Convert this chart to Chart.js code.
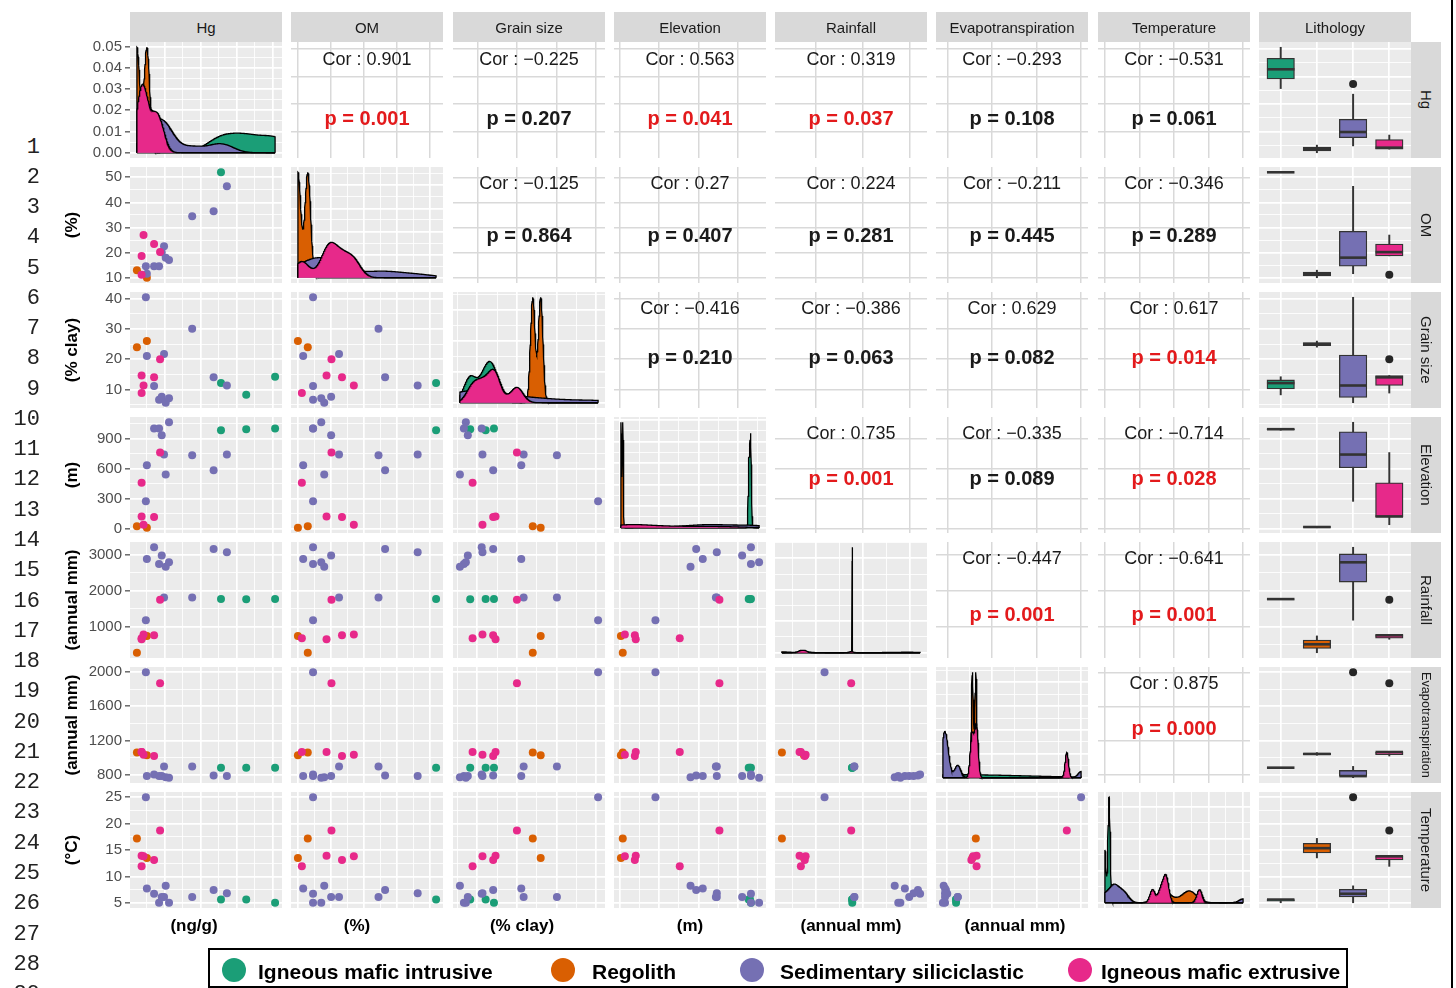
<!DOCTYPE html>
<html>
<head>
<meta charset="utf-8">
<title>Hg and environmental covariates by lithology</title>
<script src="https://cdn.jsdelivr.net/npm/chart.js@4.4.1/dist/chart.umd.min.js"></script>
<style>
  html, body { margin:0; padding:0; background:#fff; }
  body { position:relative; width:1456px; height:988px; overflow:hidden;
         font-family:"Liberation Sans", Arial, Helvetica, sans-serif; }
  canvas { position:absolute; }
  .strip { position:absolute; background:#D9D9D9; color:#1A1A1A; font-size:15px;
           display:flex; align-items:center; justify-content:center; white-space:nowrap; }
  .strip.side { writing-mode:vertical-rl; }
  .ytitle { position:absolute; font-weight:bold; font-size:17px; color:#000; white-space:nowrap;
            transform:translate(-50%,-50%) rotate(-90deg); }
  .xtitle { position:absolute; font-weight:bold; font-size:17px; color:#000; white-space:nowrap;
            transform:translate(-50%,-50%); }
  .cor { position:absolute; transform:translate(-50%,-50%); white-space:nowrap; font-size:18px; color:#1A1A1A; }
  .pval { position:absolute; transform:translate(-50%,-50%); white-space:nowrap; font-size:20px;
          font-weight:bold; color:#1A1A1A; }
  .pval.sig { color:#E31A1C; }
  .lineno { position:absolute; left:0; width:40px; text-align:right; color:#222;
            font-family:"Liberation Mono", "DejaVu Sans Mono", monospace; font-size:22px;
            transform:translateY(-50%); line-height:1; }
  .legend { position:absolute; left:208px; top:948px; width:1136px; height:36px; border:2px solid #000; }
  .key { position:absolute; width:24px; height:24px; border-radius:50%; transform:translate(-50%,-50%); }
  .keytext { position:absolute; font-weight:bold; font-size:21px; color:#000; white-space:nowrap;
             transform:translateY(-50%); line-height:1; }
  .frame { position:absolute; left:1451px; top:0; width:2px; height:988px; background:#000; }
</style>
</head>
<body>
<script>
// ---- Groups ---------------------------------------------------------------
const groupNames  = ['Igneous mafic intrusive', 'Regolith', 'Sedimentary siliciclastic', 'Igneous mafic extrusive'];
const groupColors = ['#1B9E77', '#D95F02', '#7570B3', '#E7298A'];

// ---- Samples (one entry per sampling site) --------------------------------
// lithology: index into groupNames
const lithology          = [0, 0, 0,   1, 1,   2, 2, 2, 2, 2, 2, 2, 2, 2, 2, 2,   3, 3, 3, 3, 3];
const hg                 = [128, 163, 203,   11.5, 25.3,   23.9, 25.3, 35.3, 42.2, 45.9, 49.1, 51.4, 56.0, 88.1, 117.8, 136.2,   43.6, 35.3, 20.7, 18.0, 18.0];
const om                 = [52, null, null,   13.0, 10.0,   14.6, 11.6, 14.6, 14.6, 20.1, 22.5, 18.0, 17.1, 34.5, 36.5, 46.4,   20.2, 23.4, 27.0, 18.7, 11.2];
const grainSize          = [12.1, 8.2, 14.2,   24.0, 26.0,   40.5, 21.1, 11.1, 6.6, 7.6, 21.7, 5.6, 7.1, 30.1, 14.0, 11.3,   20.0, 14.0, 11.3, 14.6, 8.8];
const elevation          = [983, 993, 1000,   24, 10,   273, 633, 1000, 1000, 933, 740, 540, 1062, 733, 583, 740,   760, 116, 40, 123, 458];
const rainfall           = [1773, 1771, 1775,   283, 750,   1187, 2890, 3213, 2750, 2982, 1818, 2675, 2795, 1818, 3168, 3074,   1752, 768, 786, 657, 685];
const evapotranspiration = [879, 879, 879,   1056, 1025,   2000, 780, 800, 780, 780, 894, 768, 761, 894, 788, 780,   1872, 1016, 1032, 1063, 1063];
const temperature        = [5.6, 5.6, 5.0,   17.2, 13.5,   25.0, 7.7, 6.7, 5.0, 6.1, 6.1, 8.2, 5.0, 6.1, 7.4, 6.8,   18.7, 13.1, 13.8, 13.9, 11.9];

// ---- Axis tick labels -------------------------------------------------------
const hgTicks    = [50, 100, 150, 200];
const omTicks    = [10, 20, 30, 40, 50];
const grainTicks = [10, 20, 30, 40];
const elevTicks  = [0, 300, 600, 900];
const rainTicks  = [1000, 2000, 3000];
const etTicks    = [800, 1200, 1600, 2000];
const tempTicks  = [5, 10, 15, 20, 25];

// ---- Correlation labels (upper triangle, left to right) --------------------
const corHg    = [0.901, -0.225, 0.563, 0.319, -0.293, -0.531];
const pHg      = [0.001, 0.207, 0.041, 0.037, 0.108, 0.061];
const corOM    = [-0.125, 0.27, 0.224, -0.211, -0.346];
const pOM      = [0.864, 0.407, 0.281, 0.445, 0.289];
const corGrain = [-0.416, -0.386, 0.629, 0.617];
const pGrain   = [0.210, 0.063, 0.082, 0.014];
const corElev  = [0.735, -0.335, -0.714];
const pElev    = [0.001, 0.089, 0.028];
const corRain  = [-0.447, -0.641];
const pRain    = [0.001, 0.001];
const corET    = [0.875];
const pET      = [0.000];

// ---- Labels -----------------------------------------------------------------
const stripLabels = ['Hg', 'OM', 'Grain size', 'Elevation', 'Rainfall', 'Evapotranspiration', 'Temperature', 'Lithology'];
const rowTitles   = [null, '(%)', '(% clay)', '(m)', '(annual mm)', '(annual mm)', '(\u00B0C)'];
const colTitles   = ['(ng/g)', '(%)', '(% clay)', '(m)', '(annual mm)', '(annual mm)'];

const variables  = [hg, om, grainSize, elevation, rainfall, evapotranspiration, temperature];
const majorTicks = [hgTicks, omTicks, grainTicks, elevTicks, rainTicks, etTicks, tempTicks];
const corRows    = [corHg, corOM, corGrain, corElev, corRain, corET];
const pRows      = [pHg, pOM, pGrain, pElev, pRain, pET];

// ---- Layout ---------------------------------------------------------------
const PW = 152, PH = 116, M = 12, AXW = 70, BOXW = 27.5, DOT = 4;
const colX = j => Math.round(130 + 161.25 * j);
const rowY = i => 42 + 125 * i;
const corTop = [17, 16, 16, 16, 16, 16];
const pTop   = [76, 68, 65, 61, 72, 61];

Chart.defaults.font.family = '"Liberation Sans", Arial, Helvetica, sans-serif';
Chart.register({
  id: 'panelBg',
  beforeDraw(chart, args, opts) {
    const a = chart.chartArea; if (!a) return;
    const c = chart.ctx; c.save();
    c.fillStyle = opts.color || '#EBEBEB';
    c.fillRect(a.left, a.top, a.right - a.left, a.bottom - a.top);
    c.restore();
  }
});

// ---- Helpers -----------------------------------------------------------------
function present(v) { return v.filter(x => x !== null && x !== undefined); }
function expandRange(v) {
  const f = present(v), lo = Math.min(...f), hi = Math.max(...f), d = (hi - lo) * 0.05;
  return [lo - d, hi + d];
}
function quantile7(s, p) {
  const h = (s.length - 1) * p, lo = Math.floor(h);
  return lo + 1 < s.length ? s[lo] + (h - lo) * (s[lo + 1] - s[lo]) : s[lo];
}
function bwNrd0(x) {
  const n = x.length, mean = x.reduce((a, b) => a + b, 0) / n;
  const hi = Math.sqrt(x.reduce((a, b) => a + (b - mean) * (b - mean), 0) / (n - 1));
  const s = [...x].sort((a, b) => a - b);
  let lo = Math.min(hi, (quantile7(s, 0.75) - quantile7(s, 0.25)) / 1.34);
  if (!(lo > 0)) lo = hi || Math.abs(x[0]) || 1;
  return 0.9 * lo * Math.pow(n, -0.2);
}
// Gaussian kernel density over [from, to], outlined down to the baseline at both ends
function kde(x, from, to) {
  const bw = bwNrd0(x), grid = [];
  for (let k = 0; k < 512; k++) grid.push(from + (to - from) * k / 511);
  x.forEach(v => grid.push(v));
  grid.sort((a, b) => a - b);
  const norm = x.length * bw * Math.sqrt(2 * Math.PI);
  const pts = grid.map(t => ({ x: t, y: x.reduce((a, v) => a + Math.exp(-0.5 * ((t - v) / bw) ** 2), 0) / norm }));
  return [{ x: from, y: 0 }, ...pts, { x: to, y: 0 }];
}
function boxStats(v) {
  const s = [...v].sort((a, b) => a - b);
  const q1 = quantile7(s, 0.25), med = quantile7(s, 0.5), q3 = quantile7(s, 0.75), iqr = q3 - q1;
  const lf = q1 - 1.5 * iqr, uf = q3 + 1.5 * iqr;
  const inside = s.filter(x => x >= lf && x <= uf);
  return { q1, med, q3, lo: Math.min(...inside), hi: Math.max(...inside), out: s.filter(x => x < lf || x > uf) };
}
function niceStep(span) {
  const raw = span / 5, mag = Math.pow(10, Math.floor(Math.log10(raw))), n = raw / mag;
  return (n < 1.5 ? 1 : n < 3 ? 2 : n < 7 ? 5 : 10) * mag;
}
function gridValues(majors, lo, hi, withMinor) {
  const out = majors.filter(v => v >= lo && v <= hi).map(v => ({ value: v, isMajor: true }));
  if (withMinor && majors.length > 1) {
    const step = majors[1] - majors[0];
    for (let k = -1; k < majors.length; k++) {
      const m = majors[0] + (k + 0.5) * step;
      if (m >= lo && m <= hi) out.push({ value: m, isMajor: false });
    }
  }
  return out.sort((a, b) => a.value - b.value);
}

const GREY  = { major: '#FFFFFF', minor: '#FFFFFF', majorW: 1.7, minorW: 0.85 };
const UPPER = { major: '#D9D9D9', minor: '#D9D9D9', majorW: 1.5, minorW: 1.5 };

function axis(pos, lo, hi, ticks, look, labelFmt) {
  const withLabels = !!labelFmt;
  const conf = {
    type: 'linear', position: pos, min: lo, max: hi, offset: false, beginAtZero: false,
    afterBuildTicks: s => { s.ticks = ticks.map(t => ({ value: t.value, isMajor: t.isMajor })); },
    grid: {
      display: true, drawOnChartArea: true, offset: false,
      color: c => (c.tick && c.tick.isMajor) ? look.major : look.minor,
      lineWidth: c => (c.tick && c.tick.isMajor) ? look.majorW : look.minorW,
      drawTicks: withLabels, tickLength: 5, tickWidth: 1.1,
      tickColor: c => (c.tick && c.tick.isMajor) ? '#333333' : 'rgba(0,0,0,0)'
    },
    border: { display: false },
    ticks: {
      display: withLabels, autoSkip: false, padding: 3, color: '#4D4D4D', font: { size: 15 },
      callback: (v, idx, arr) => (withLabels && arr[idx] && arr[idx].isMajor) ? labelFmt(v) : ''
    }
  };
  if (withLabels) conf.afterFit = s => { s.width = AXW; };
  return conf;
}

function makeCanvas(i, j, withAxis) {
  const x = colX(j), y = rowY(i);
  const c = document.createElement('canvas');
  const left = withAxis ? x - AXW : x - M;
  const w = withAxis ? AXW + PW + M : PW + 2 * M;
  const h = PH + 2 * M;
  c.width = w; c.height = h;
  c.style.left = left + 'px'; c.style.top = (y - M) + 'px';
  c.style.width = w + 'px'; c.style.height = h + 'px';
  document.body.appendChild(c);
  return { canvas: c, padding: withAxis ? { left: 0, right: M, top: M, bottom: M } : M };
}

function build(geom, type, datasets, xAxis, yAxis, bg, plugins) {
  return new Chart(geom.canvas, {
    type, data: { datasets },
    options: {
      responsive: false, animation: false, devicePixelRatio: 1, events: [],
      layout: { padding: geom.padding },
      plugins: { legend: { display: false }, tooltip: { enabled: false }, panelBg: { color: bg } },
      scales: { x: xAxis, y: yAxis }
    },
    plugins: plugins || []
  });
}

const limits = variables.map(expandRange);
const intFmt = v => String(Math.round(v));
const varGrid = (k, minor) => gridValues(majorTicks[k], limits[k][0], limits[k][1], minor);
const sampleIdx = lithology.map((_, k) => k);

// ---- Panels -------------------------------------------------------------------
function scatterPanel(i, j, geom, withLabels) {
  const datasets = groupColors.map((col, g) => ({
    data: sampleIdx.filter(k => lithology[k] === g && variables[j][k] != null && variables[i][k] != null)
                   .map(k => ({ x: variables[j][k], y: variables[i][k] })),
    backgroundColor: col, pointRadius: DOT, borderWidth: 0, order: 3 - g
  }));
  build(geom, 'scatter', datasets,
        axis('bottom', limits[j][0], limits[j][1], varGrid(j, true), GREY),
        axis('left', limits[i][0], limits[i][1], varGrid(i, true), GREY, withLabels ? intFmt : null),
        '#EBEBEB');
}

function densityPanel(j, geom, withLabels) {
  const f = present(variables[j]);
  const from = Math.min(...f), to = Math.max(...f);
  const curves = groupColors.map((col, g) => {
    const v = sampleIdx.filter(k => lithology[k] === g && variables[j][k] != null).map(k => variables[j][k]);
    return v.length >= 2 ? kde(v, from, to) : null;
  });
  const dmax = Math.max(...curves.filter(Boolean).flatMap(c => c.map(p => p.y)));
  const ylo = -0.05 * dmax, yhi = 1.05 * dmax;
  const step = niceStep(yhi - ylo), majors = [];
  for (let v = Math.ceil(ylo / step) * step; v <= yhi + 1e-12; v += step) majors.push(Math.round(v / step) * step);
  const datasets = [];
  curves.forEach((c, g) => {
    if (!c) return;
    datasets.push({ data: c, fill: 'origin', backgroundColor: groupColors[g], borderColor: '#000000',
                    borderWidth: 1.3, pointRadius: 0, tension: 0, order: 3 - g });
  });
  build(geom, 'line', datasets,
        axis('bottom', limits[j][0], limits[j][1], varGrid(j, true), GREY),
        axis('left', ylo, yhi, gridValues(majors, ylo, yhi, true), GREY, withLabels ? (v => v.toFixed(2)) : null),
        '#EBEBEB');
}

function upperPanel(i, j, geom) {
  build(geom, 'scatter', [],
        axis('bottom', limits[j][0], limits[j][1], varGrid(j, false), UPPER),
        axis('left', limits[i][0], limits[i][1], varGrid(i, false), UPPER),
        '#FFFFFF');
  const cx = colX(j) + PW / 2, top = rowY(i);
  const r = corRows[i][j - i - 1], p = pRows[i][j - i - 1];
  const corTxt = (r < 0 ? '\u2212' : '') + String(Number(Math.abs(r).toPrecision(3)));
  const cd = document.createElement('div');
  cd.className = 'cor'; cd.textContent = 'Cor : ' + corTxt;
  cd.style.left = cx + 'px'; cd.style.top = (top + corTop[i]) + 'px';
  document.body.appendChild(cd);
  const pd = document.createElement('div');
  pd.className = 'pval' + (p < 0.05 ? ' sig' : ''); pd.textContent = 'p = ' + p.toFixed(3);
  pd.style.left = cx + 'px'; pd.style.top = (top + pTop[i]) + 'px';
  document.body.appendChild(pd);
}

function boxPanel(i, geom) {
  const stats = groupColors.map((col, g) => {
    const v = sampleIdx.filter(k => lithology[k] === g && variables[i][k] != null).map(k => variables[i][k]);
    return v.length ? boxStats(v) : null;
  });
  const whiskers = [], boxes = [], boxColors = [], outliers = [], medians = [];
  stats.forEach((s, g) => {
    if (!s) return;
    whiskers.push({ x: g + 1, y: [s.lo, s.hi] });
    boxes.push({ x: g + 1, y: [s.q1, s.q3] });
    boxColors.push(groupColors[g]);
    medians.push({ x: g + 1, y: s.med });
    s.out.forEach(v => outliers.push({ x: g + 1, y: v }));
  });
  const medianLines = {
    id: 'medianLines',
    afterDatasetsDraw(chart) {
      const { ctx, scales } = chart;
      ctx.save(); ctx.strokeStyle = '#333333'; ctx.lineWidth = 2.6;
      medians.forEach(m => {
        const px = scales.x.getPixelForValue(m.x), py = scales.y.getPixelForValue(m.y);
        ctx.beginPath(); ctx.moveTo(px - BOXW / 2, py); ctx.lineTo(px + BOXW / 2, py); ctx.stroke();
      });
      ctx.restore();
    }
  };
  const datasets = [
    { type: 'bar', data: whiskers, backgroundColor: '#333333', barThickness: 1.3, grouped: false, order: 3 },
    { type: 'bar', data: boxes, backgroundColor: boxColors,
      borderColor: '#333333', borderWidth: 1.3, borderSkipped: false, barThickness: BOXW, grouped: false, order: 2 },
    { type: 'scatter', data: outliers, backgroundColor: '#262626', pointRadius: DOT, borderWidth: 0, order: 1 }
  ];
  const xTicks = [1, 2, 3, 4].map(v => ({ value: v, isMajor: true }));
  build(geom, 'bar', datasets,
        axis('bottom', 0.4, 4.6, xTicks, GREY),
        axis('left', limits[i][0], limits[i][1], varGrid(i, true), GREY),
        '#EBEBEB', [medianLines]);
}

// ---- Draw the matrix --------------------------------------------------------
const NV = variables.length;
for (let i = 0; i < NV; i++) {
  for (let j = 0; j <= NV; j++) {
    const leftCol = j === 0;
    const geom = makeCanvas(i, j, leftCol);
    if (j === NV) boxPanel(i, geom);
    else if (i === j) densityPanel(j, geom, leftCol);
    else if (i > j) scatterPanel(i, j, geom, leftCol);
    else upperPanel(i, j, geom);
  }
}

// ---- Strips, titles, legend ------------------------------------------------------
function addDiv(cls, text, css) {
  const d = document.createElement('div');
  d.className = cls; d.textContent = text;
  Object.assign(d.style, css);
  document.body.appendChild(d);
  return d;
}
stripLabels.forEach((lab, j) => {
  addDiv('strip', lab, { left: colX(j) + 'px', top: '12px', width: PW + 'px', height: '30px' });
});
stripLabels.slice(0, NV).forEach((lab, i) => {
  addDiv('strip side', lab, { left: (colX(NV) + PW) + 'px', top: rowY(i) + 'px', width: '30px', height: PH + 'px',
                              fontSize: lab.length > 14 ? '12.7px' : '15px' });
});
rowTitles.forEach((t, i) => {
  if (t) addDiv('ytitle', t, { left: '72px', top: (rowY(i) + PH / 2) + 'px' });
});
const xTitleCenters = [194, 357, 522, 690, 851, 1015];
colTitles.forEach((t, j) => addDiv('xtitle', t, { left: xTitleCenters[j] + 'px', top: '926px' }));

for (let n = 1; n <= 29; n++) addDiv('lineno', String(n), { top: (147.5 + 30.27 * (n - 1)) + 'px' });

addDiv('legend', '', {});
const keyX = [234, 563, 752, 1080], keyTextX = [258, 592, 780, 1101];
groupNames.forEach((name, g) => {
  addDiv('key', '', { left: keyX[g] + 'px', top: '970px', background: groupColors[g] });
  addDiv('keytext', name, { left: keyTextX[g] + 'px', top: '971px' });
});
addDiv('frame', '', {});
</script>
</body>
</html>
